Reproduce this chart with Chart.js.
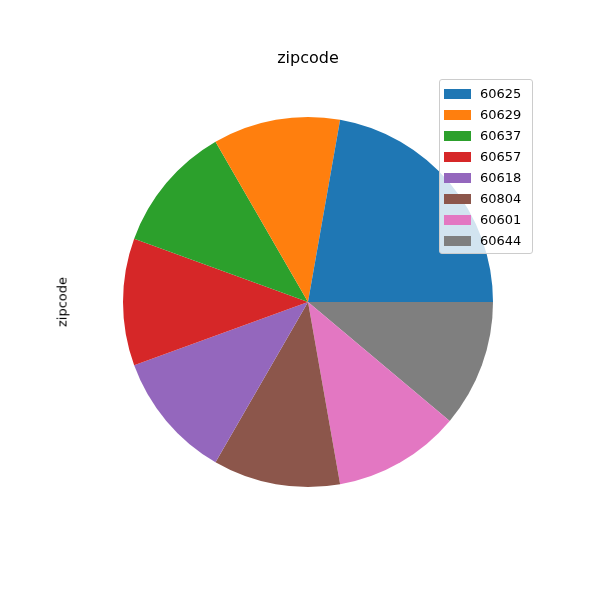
<!DOCTYPE html>
<html>
<head>
<script src="https://cdn.jsdelivr.net/npm/chart.js@4"></script>
<style>
  body { margin: 0; background: #fff; font-family: "DejaVu Sans", sans-serif; }
  #wrap { position: relative; width: 600px; height: 600px; }
  #title { position: absolute; top: 48px; left: 0; width: 616px; text-align: center; font-size: 16px; color: #000; }
  #ylab { position: absolute; left: 62px; top: 302px; transform: translate(-50%, -50%) rotate(-90deg); font-size: 13px; }
  #legend { position: absolute; left: 439px; top: 79px; width: 92px; border: 1px solid #ccc; border-radius: 3px; background: rgba(255,255,255,0.8); padding: 3px 0 2px 0; font-size: 13px; }
  #legend div { display: flex; align-items: center; height: 21px; padding-left: 4px; }
  #legend span.sw { display: inline-block; width: 27px; height: 10px; margin-right: 9px; }
</style>
</head>
<body>
<div id="wrap">
  <canvas id="myChart" width="600" height="600"></canvas>
  <div id="title">zipcode</div>
  <div id="ylab">zipcode</div>
  <div id="legend"></div>
</div>
<script>
let zipcodes = ["60625", "60629", "60637", "60657", "60618", "60804", "60601", "60644"];
let counts = [2, 1, 1, 1, 1, 1, 1, 1];
let colors = ["#1f77b4", "#ff7f0e", "#2ca02c", "#d62728", "#9467bd", "#8c564b", "#e377c2", "#7f7f7f"];

// matplotlib goes counterclockwise from east, chart.js clockwise -> reverse and start at east
let labelsRev = zipcodes.slice().reverse();
let countsRev = counts.slice().reverse();
let colorsRev = colors.slice().reverse();

let legendEl = document.querySelector("#legend");
zipcodes.forEach((z, i) => {
  let row = document.createElement("div");
  row.innerHTML = `<span class="sw" style="background:${colors[i]}"></span>${z}`;
  legendEl.appendChild(row);
});

let ctx = document.getElementById("myChart").getContext("2d");
new Chart(ctx, {
  type: "pie",
  data: {
    labels: labelsRev,
    datasets: [{ data: countsRev, backgroundColor: colorsRev, borderWidth: 0 }]
  },
  options: {
    responsive: false,
    animation: false,
    rotation: 90,
    layout: { padding: { left: 123, right: 107, top: 117, bottom: 113 } },
    plugins: { legend: { display: false }, tooltip: { enabled: false } }
  }
});
</script>
</body>
</html>
